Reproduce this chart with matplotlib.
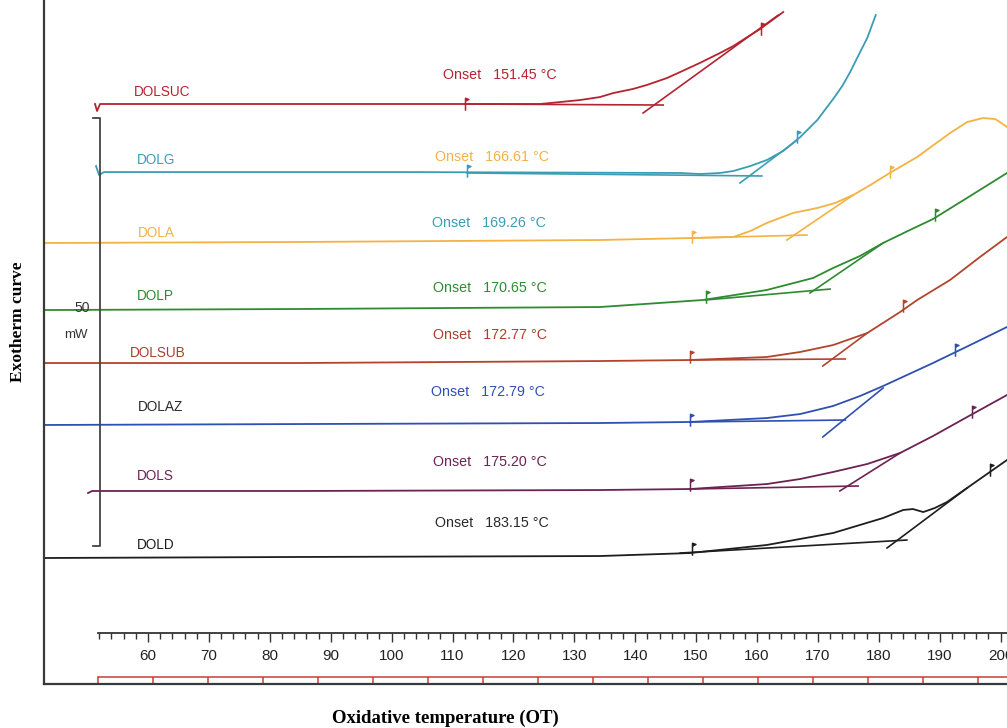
import matplotlib
matplotlib.use('Agg')
import numpy as np
import matplotlib.pyplot as plt
from matplotlib.path import Path

# DSC exotherms, temperature in degC, heat flow in mW (traces stacked with offsets)
samples = ['DOLSUC', 'DOLG', 'DOLA', 'DOLP', 'DOLSUB', 'DOLAZ', 'DOLS', 'DOLD']
colors = ['#b42430', '#3a9db4', '#f3b244', '#2f8b32', '#b3442c', '#2f50b2', '#6c2352', '#1e1e1e']
name_colors = ['#b42430', '#3a9db4', '#f3b244', '#2f8b32', '#a8402a', '#2a2a2a', '#6c2352', '#1e1e1e']
onset_values = ['151.45', '166.61', '169.26', '170.65', '172.77', '172.79', '175.20', '183.15']
# the printed onset labels of DOLG / DOLA carry each other's colour in the original
onset_colors = ['#b42430', '#f3b244', '#3a9db4', '#2f8b32', '#a8402a', '#2f50b2', '#6c2352', '#2a2a2a']

dolsuc_t = [51.30, 51.63, 52.12, 112.0, 124.4, 127.7, 130.9, 134.2, 136.4, 139.6, 141.9, 145.2,
            147.4, 150.6, 153.9, 156.1, 160.5, 164.3]
dolsuc_y = [67.76, 66.94, 67.76, 67.76, 67.76, 67.99, 68.22, 68.57, 69.04, 69.51, 69.98, 70.79,
            71.50, 72.55, 73.71, 74.53, 76.52, 78.50]
dolg_t = [51.46, 51.96, 52.78, 101.4, 147.4, 150.6, 153.9, 156.1, 158.9, 161.6, 164.3, 167.1,
          169.9, 172.5, 174.0, 175.3, 176.6, 178.1, 179.5]
dolg_y = [60.51, 59.46, 59.81, 59.81, 59.70, 59.58, 59.70, 59.93, 60.51, 61.21, 62.27, 63.90,
          65.89, 68.34, 69.86, 71.50, 73.36, 75.47, 78.15]
dola_t = [42.92, 84.96, 134.2, 149.0, 156.1, 158.9, 161.6, 165.9, 169.9, 172.8, 175.8, 178.6,
          181.8, 186.3, 191.7, 194.5, 197.1, 199.1, 199.9, 201.05]
dola_y = [51.52, 51.64, 51.87, 52.10, 52.22, 52.92, 53.86, 55.02, 55.61, 56.19, 57.13, 58.29,
          59.70, 61.57, 64.37, 65.65, 66.12, 66.00, 65.65, 65.07]
dolp_t = [42.92, 84.96, 134.2, 151.1, 161.6, 169.2, 172.5, 176.9, 180.7, 185.1, 188.9, 195.0, 201.05]
dolp_y = [43.69, 43.81, 44.04, 44.86, 46.03, 47.43, 48.60, 50.00, 51.52, 53.04, 54.32, 57.01, 59.70]
dolsub_t = [42.92, 84.96, 134.2, 149.0, 161.6, 167.1, 172.5, 178.1, 183.5, 186.3, 191.7, 196.6, 201.05]
dolsub_y = [37.50, 37.50, 37.73, 37.85, 38.20, 38.79, 39.60, 41.00, 43.46, 44.86, 47.20, 49.88, 52.22]
dolaz_t = [42.92, 84.96, 134.2, 149.0, 161.6, 167.1, 172.5, 176.9, 180.7, 188.9, 195.0, 201.05]
dolaz_y = [30.26, 30.37, 30.49, 30.61, 31.07, 31.54, 32.48, 33.64, 34.81, 37.50, 39.60, 41.71]
dols_t = [50.15, 50.81, 84.96, 134.2, 149.0, 161.6, 167.1, 172.5, 178.1, 183.5, 188.9, 194.5, 201.05]
dols_y = [22.31, 22.55, 22.55, 22.66, 22.78, 23.36, 23.95, 24.77, 25.70, 26.99, 28.97, 31.19, 33.76]
dold_t = [42.92, 84.96, 134.2, 149.0, 161.6, 172.5, 180.7, 184.0, 185.6, 187.3, 189.2, 191.2, 194.5, 201.05]
dold_y = [14.72, 14.84, 14.95, 15.30, 16.24, 17.64, 19.39, 20.33, 20.44, 20.09, 20.56, 21.26, 22.90, 26.17]

traces_t = [dolsuc_t, dolg_t, dola_t, dolp_t, dolsub_t, dolaz_t, dols_t, dold_t]
traces_y = [dolsuc_y, dolg_y, dola_y, dolp_y, dolsub_y, dolaz_y, dols_y, dold_y]

# onset construction: tangent at inflection and extrapolated baseline (start/end points)
tangent_t = [(141.3, 163.5), (157.2, 166.6), (164.9, 175.8), (168.7, 180.7),
             (170.8, 178.1), (170.8, 180.7), (173.6, 183.5), (181.35, 194.5)]
tangent_y = [(66.71, 78.15), (58.53, 63.55), (51.87, 57.13), (45.68, 51.52),
             (37.15, 41.00), (28.86, 34.58), (22.55, 26.99), (15.89, 22.90)]
base_t = [(112.0, 144.6), (112.4, 160.8), (149.0, 168.2), (151.5, 172.0),
          (149.0, 174.5), (149.0, 174.5), (149.0, 176.6), (147.4, 184.6)]
base_y = [(67.76, 67.64), (59.70, 59.35), (52.10, 52.45), (44.86, 46.14),
          (37.85, 37.97), (30.61, 30.84), (22.78, 23.13), (15.30, 16.82)]
flag_t = [(112.0, 160.6), (112.4, 166.6), (149.3, 181.8), (151.6, 189.2),
          (149.0, 184.0), (149.0, 192.5), (149.0, 195.3), (149.3, 198.3)]
flag_y = [(67.76, 76.50), (59.93, 63.90), (52.22, 59.81), (45.21, 54.79),
          (38.20, 44.16), (30.84, 39.02), (23.25, 31.78), (15.77, 25.00)]

# label anchors (left edge, vertical centre)
name_t = [57.7, 58.2, 58.4, 58.2, 57.05, 58.4, 58.2, 58.2]
name_y = [69.16, 61.21, 52.69, 45.33, 38.67, 32.36, 24.30, 16.24]
onset_t = [108.4, 107.1, 106.6, 106.8, 106.8, 106.5, 106.8, 107.1]
onset_y = [71.14, 61.57, 53.86, 46.26, 40.77, 34.11, 25.93, 18.81]

scale_t = 52.12
scale_lo, scale_hi = 16.12, 66.12   # 50 mW bar
major_ticks = np.arange(60, 201, 10)
minor_ticks = np.arange(52, 201, 2)
red_ticks = np.arange(51.8, 201, 9.03)

sans = ['Liberation Sans', 'DejaVu Sans']
serif = ['Liberation Serif', 'DejaVu Serif']

fig = plt.figure(figsize=(10.07, 7.28), dpi=100)
ax = fig.add_axes([44 / 1007, 44 / 728, 963 / 1007, 684 / 728])
ax.set_xlim(42.92, 201.05)
ax.set_ylim(0, 79.91)
ax.patch.set_visible(False)
for s in ['top', 'right']:
    ax.spines[s].set_visible(False)
for s in ['left', 'bottom']:
    ax.spines[s].set_color('#3a3a3a')
    ax.spines[s].set_linewidth(1.6)
ax.set_xticks([])
ax.set_yticks([])

flag = Path([(0, -1), (0, 1), (0.55, 0.8), (0, 0.55)],
            [Path.MOVETO, Path.LINETO, Path.LINETO, Path.LINETO])

for i in range(len(samples)):
    c = colors[i]
    ax.plot(traces_t[i], traces_y[i], color=c, lw=1.3, solid_joinstyle='round')
    ax.plot(tangent_t[i], tangent_y[i], color=c, lw=1.2)
    ax.plot(base_t[i], base_y[i], color=c, lw=1.2)
    ax.plot(flag_t[i], flag_y[i], ls='none', marker=flag, markersize=9,
            color=c, markerfacecolor=c, markeredgewidth=1.1)
    ax.text(name_t[i], name_y[i], samples[i], color=name_colors[i], fontsize=9.8,
            family=sans, ha='left', va='center')
    ax.text(onset_t[i], onset_y[i], 'Onset   ' + onset_values[i] + ' \u00b0C',
            color=onset_colors[i], fontsize=10.3, family=sans, ha='left', va='center')

# 50 mW scale bar
ax.plot([scale_t - 1.15, scale_t, scale_t, scale_t - 1.15],
        [scale_hi, scale_hi, scale_lo, scale_lo], color='#444444', lw=1.3)
ax.text(49.2, 43.93, '50', fontsize=10, family=sans, ha='center', va='center', color='#333333')
ax.text(48.2, 40.77, 'mW', fontsize=9.5, family=sans, ha='center', va='center', color='#333333')

# red chart-paper strip above the frame
ax.plot([red_ticks[0], 201.05], [0.82, 0.82], color='#cc3a3a', lw=1.1)
ax.vlines(red_ticks, 0, 0.82, color='#cc3a3a', lw=1.1)

# temperature ruler
rax = fig.add_axes([44 / 1007, (728 - 633) / 728, 963 / 1007, 0.0001])
rax.set_xlim(ax.get_xlim())
rax.patch.set_visible(False)
for s in ['top', 'right', 'left']:
    rax.spines[s].set_visible(False)
rax.spines['bottom'].set_bounds(51.8, 201.05)
rax.spines['bottom'].set_color('#333333')
rax.spines['bottom'].set_linewidth(1.3)
rax.set_yticks([])
rax.set_xticks(major_ticks)
rax.set_xticks(minor_ticks, minor=True)
rax.tick_params(axis='x', which='major', direction='out', length=6.5, width=1.0,
                color='#333333', pad=5, labelsize=11)
rax.tick_params(axis='x', which='minor', direction='out', length=4, width=1.0, color='#333333')
for lab in rax.get_xticklabels():
    lab.set_family(sans)
    lab.set_color('#222222')

fig.text(18 / 1007, (728 - 322) / 728, 'Exotherm curve', rotation=90, ha='center', va='center',
         fontsize=12.5, fontweight='bold', family=serif)
fig.text(445 / 1007, (728 - 718) / 728, 'Oxidative temperature (OT)', ha='center', va='center',
         fontsize=13.5, fontweight='bold', family=serif)

fig.savefig('out.png', dpi=100)
